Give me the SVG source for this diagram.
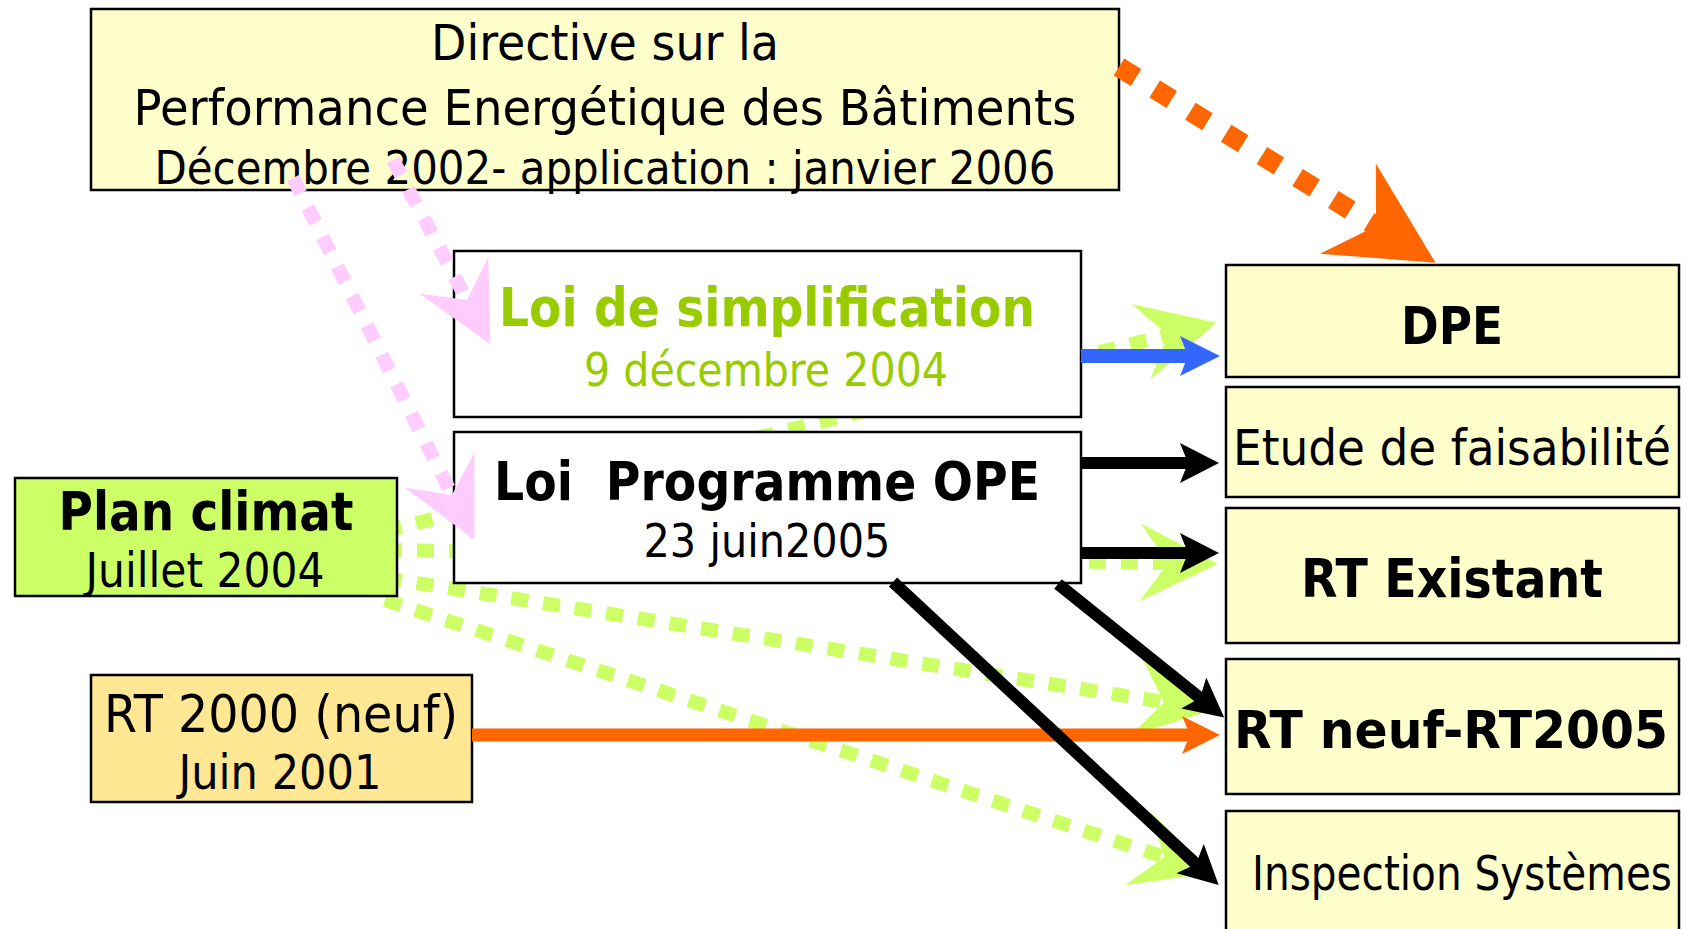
<svg xmlns="http://www.w3.org/2000/svg" width="1695" height="929" viewBox="0 0 1695 929">
<style>
  .box{stroke:#000;stroke-width:2.5}
  .yel{fill:#ffffcc}
  .wht{fill:#ffffff}
  .t{font-family:"DejaVu Sans","Noto Sans",sans-serif;fill:#000}
  .b{font-weight:bold}
  .grn{fill:#99cc00}
  .gdot{fill:none;stroke:#ccff66;stroke-width:14;stroke-dasharray:17 15}
  .pdot{fill:none;stroke:#ffccff;stroke-width:14;stroke-dasharray:17 16}
  .odot{fill:none;stroke:#ff6600;stroke-width:20;stroke-dasharray:20 22}
  .blk{fill:none;stroke:#000;stroke-width:12}
</style>
<defs>
  <marker id="sg" markerUnits="userSpaceOnUse" viewBox="-30 -40 82 80" refX="0" refY="0" markerWidth="82" markerHeight="80" orient="auto">
    <path d="M0,0 L-28,-39 L50,0 L-28,39 Z" fill="#ccff66"/>
  </marker>
  <marker id="sp" markerUnits="userSpaceOnUse" viewBox="-30 -40 82 80" refX="0" refY="0" markerWidth="82" markerHeight="80" orient="auto">
    <path d="M0,0 L-28,-39 L50,0 L-28,39 Z" fill="#ffccff"/>
  </marker>
  <marker id="so" markerUnits="userSpaceOnUse" viewBox="-35 -55 107 110" refX="0" refY="0" markerWidth="107" markerHeight="110" orient="auto">
    <path d="M0,0 L-33,-53 L70,0 L-33,53 Z" fill="#ff6600"/>
  </marker>
  <marker id="ab" markerUnits="userSpaceOnUse" viewBox="-10 -22 44 44" refX="0" refY="0" markerWidth="44" markerHeight="44" orient="auto">
    <path d="M0,0 L-8,-20 L31,0 L-8,20 Z" fill="#000"/>
  </marker>
  <marker id="au" markerUnits="userSpaceOnUse" viewBox="-10 -22 44 44" refX="0" refY="0" markerWidth="44" markerHeight="44" orient="auto">
    <path d="M0,0 L-8,-20 L32,0 L-8,20 Z" fill="#3366ff"/>
  </marker>
  <marker id="ao" markerUnits="userSpaceOnUse" viewBox="-10 -22 44 44" refX="0" refY="0" markerWidth="44" markerHeight="44" orient="auto">
    <path d="M0,0 L-8,-19 L30,0 L-8,19 Z" fill="#ff6600"/>
  </marker>
</defs>
<rect x="0" y="0" width="1695" height="929" fill="#ffffff"/>

<g id="connectors-back">
  <path class="gdot" d="M385,531 L1168,335" marker-end="url(#sg)"/>
  <path class="gdot" d="M385,550 L1168,563" marker-end="url(#sg)"/>
  <path class="gdot" d="M385,578 L1164,702" marker-end="url(#sg)"/>
  <path class="gdot" d="M385,600 L1164,857" marker-end="url(#sg)"/>
</g>

<g id="directive">
  <rect class="box yel" x="91" y="9" width="1028" height="181"/>
  <text class="t" x="605" y="60" font-size="49" text-anchor="middle" textLength="348" lengthAdjust="spacingAndGlyphs">Directive sur la</text>
  <text class="t" x="605" y="125" font-size="50" text-anchor="middle" textLength="943" lengthAdjust="spacingAndGlyphs">Performance Energétique des Bâtiments</text>
  <text class="t" x="605" y="184" font-size="47" text-anchor="middle" textLength="901" lengthAdjust="spacingAndGlyphs">Décembre 2002- application : janvier 2006</text>
</g>

<g id="loi-simplification">
  <rect class="box wht" x="454" y="251" width="627" height="166"/>
  <text class="t b grn" x="767" y="326" font-size="53" text-anchor="middle" textLength="536" lengthAdjust="spacingAndGlyphs">Loi de simplification</text>
  <text class="t grn" x="766" y="386" font-size="47" text-anchor="middle" textLength="364" lengthAdjust="spacingAndGlyphs">9 décembre 2004</text>
</g>

<g id="loi-programme">
  <rect class="box wht" x="454" y="432" width="627" height="151"/>
  <text class="t b" x="767" y="500" font-size="53" text-anchor="middle" textLength="546" lengthAdjust="spacingAndGlyphs" xml:space="preserve">Loi  Programme OPE</text>
  <text class="t" x="767" y="557" font-size="47" text-anchor="middle" textLength="247" lengthAdjust="spacingAndGlyphs">23 juin2005</text>
</g>

<g id="plan-climat">
  <rect class="box" fill="#ccff66" x="15" y="478" width="382" height="118"/>
  <text class="t b" x="206" y="530" font-size="54" text-anchor="middle" textLength="295" lengthAdjust="spacingAndGlyphs">Plan climat</text>
  <text class="t" x="205" y="587" font-size="48" text-anchor="middle" textLength="239" lengthAdjust="spacingAndGlyphs">Juillet 2004</text>
</g>

<g id="rt2000">
  <rect class="box" fill="#ffe794" x="91" y="675" width="381" height="127"/>
  <text class="t" x="281" y="732" font-size="52" text-anchor="middle" textLength="354" lengthAdjust="spacingAndGlyphs">RT 2000 (neuf)</text>
  <text class="t" x="280" y="789" font-size="48" text-anchor="middle" textLength="203" lengthAdjust="spacingAndGlyphs">Juin 2001</text>
</g>

<g id="dpe">
  <rect class="box yel" x="1226" y="265" width="453" height="112"/>
  <text class="t b" x="1452" y="344" font-size="52" text-anchor="middle" textLength="102" lengthAdjust="spacingAndGlyphs">DPE</text>
</g>

<g id="etude">
  <rect class="box yel" x="1226" y="387" width="453" height="110"/>
  <text class="t" x="1452" y="465" font-size="50" text-anchor="middle" textLength="438" lengthAdjust="spacingAndGlyphs">Etude de faisabilité</text>
</g>

<g id="rt-existant">
  <rect class="box yel" x="1226" y="508" width="453" height="135"/>
  <text class="t b" x="1452" y="597" font-size="54" text-anchor="middle" textLength="302" lengthAdjust="spacingAndGlyphs">RT Existant</text>
</g>

<g id="rt-neuf">
  <rect class="box yel" x="1226" y="659" width="453" height="135"/>
  <text class="t b" x="1451" y="748" font-size="52" text-anchor="middle" textLength="434" lengthAdjust="spacingAndGlyphs">RT neuf-RT2005</text>
</g>

<g id="inspection">
  <rect class="box yel" x="1226" y="811" width="453" height="140"/>
  <text class="t" x="1462" y="890" font-size="48" text-anchor="middle" textLength="420" lengthAdjust="spacingAndGlyphs">Inspection Systèmes</text>
</g>

<g id="connectors">
  <path class="pdot" d="M293,178 L452,495" marker-end="url(#sp)"/>
  <path class="pdot" d="M393,160 L467,300" marker-end="url(#sp)"/>
  <path class="odot" d="M1119,67 L1376,226" marker-end="url(#so)"/>
  <path d="M1081,356 L1188,356" fill="none" stroke="#3366ff" stroke-width="14" marker-end="url(#au)"/>
  <path d="M472,735 L1190,735" fill="none" stroke="#ff6600" stroke-width="13" marker-end="url(#ao)"/>
  <path class="blk" d="M1081,463 L1188,463" marker-end="url(#ab)"/>
  <path class="blk" d="M1081,553 L1188,553" marker-end="url(#ab)"/>
  <path class="blk" d="M1058,584 L1200,698" marker-end="url(#ab)"/>
  <path class="blk" d="M893,582 L1196,864" marker-end="url(#ab)"/>
</g>
</svg>
